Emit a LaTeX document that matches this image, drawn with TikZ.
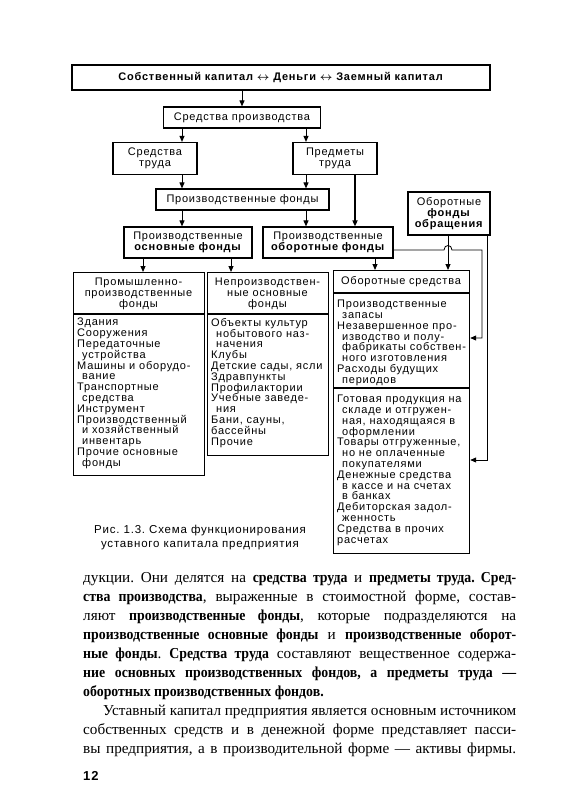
\documentclass[tikz,border=0pt]{standalone}
\usepackage{fontspec}
\setmainfont{Liberation Serif}[BoldFeatures={FakeStretch=0.91}]
\newfontfamily\diagfont{Liberation Sans}[LetterSpace=7]
\usepackage{tikz}
\usetikzlibrary{arrows.meta}
\newcommand{\indnt}{\hspace*{5pt}}
\newcommand{\lrarr}{{\boldmath$\leftrightarrow$}}
\frenchspacing

\begin{document}
\begin{tikzpicture}[x=1pt,y=-1pt,
  box/.style={draw,line width=1.2pt,inner sep=0pt,align=center,font={\diagfont\fontsize{11}{10.8}\selectfont}},
  listframe/.style={draw,line width=1.2pt,inner sep=0pt,anchor=north west},
  items/.style={anchor=north west,inner sep=0pt,align=left,font={\diagfont\fontsize{11}{10.8}\selectfont}},
  arr/.style={-{Triangle[length=6pt,width=5pt]},line width=1pt},
  bodyline/.style={anchor=base west,inner sep=0pt,font={\fontsize{15.2}{19}\selectfont}}]
  \fill[white] (0,0) rectangle (564,800);
  \useasboundingbox (0,0) rectangle (564,800);

  % upper boxes
  \node[box,minimum width=418pt,minimum height=25pt](top) at (281,77.5){\textbf{Собственный капитал \lrarr{} Деньги \lrarr{} Заемный капитал}};
  \node[box,minimum width=157pt,minimum height=21pt](sp) at (242,117.5){Средства производства};
  \node[box,minimum width=84pt,minimum height=32pt](st) at (155,158.5){Средства\\труда};
  \node[box,minimum width=84pt,minimum height=32pt](pt) at (335,158.5){Предметы\\труда};
  \node[box,minimum width=173pt,minimum height=21pt](pf) at (242.5,199.5){Производственные фонды};
  \node[box,minimum width=128pt,minimum height=31pt](posf) at (188,242.5){Производственные\\\textbf{основные фонды}};
  \node[box,minimum width=130pt,minimum height=31pt](pobf) at (328,242.5){Производственные\\\textbf{оборотные фонды}};
  \node[box,minimum width=82pt,minimum height=43pt](ofo) at (449,213.5){Оборотные\\\textbf{фонды}\\\textbf{обращения}};

  % lower boxes
  \node[listframe,minimum width=131pt,minimum height=203pt](ppf) at (73,272){};
  \node[listframe,minimum width=121pt,minimum height=183pt](npof) at (207,272){};
  \node[listframe,minimum width=136pt,minimum height=283pt](os) at (333,270){};
  \draw[line width=1.2pt] (73,314) -- (204,314);
  \draw[line width=1.2pt] (207,314) -- (328,314);
  \draw[line width=1.2pt] (333,293) -- (469,293);
  \draw[line width=1.2pt] (333,388) -- (469,388);

  \node[box,draw=none](ppft) at (138.5,294){Промышленно-\\производственные\\фонды};
  \node[box,draw=none](npoft) at (267.5,294){Непроизводствен-\\ные основные\\фонды};
  \node[box,draw=none](ost) at (401,282){Оборотные средства};

  \node[items](ppfi) at (77,318){Здания\\Сооружения\\Передаточные\\\indnt устройства\\Машины и оборудо-\\\indnt вание\\Транспортные\\\indnt средства\\Инструмент\\Производственный\\\indnt и хозяйственный\\\indnt инвентарь\\Прочие основные\\\indnt фонды};
  \node[items](npofi) at (211,318){Объекты культур\\\indnt нобытового наз-\\\indnt начения\\Клубы\\Детские сады, ясли\\Здравпункты\\Профилактории\\Учебные заведе-\\\indnt ния\\Бани, сауны,\\бассейны\\Прочие};
  \node[items](osi) at (337,300){Производственные\\\indnt запасы\\Незавершенное про-\\\indnt изводство и полу-\\\indnt фабрикаты собствен-\\\indnt ного изготовления\\Расходы будущих\\\indnt периодов};
  \node[items](osj) at (337,395){Готовая продукция на\\\indnt складе и отгружен-\\\indnt ная, находящаяся в\\\indnt оформлении\\Товары отгруженные,\\\indnt но не оплаченные\\\indnt покупателями\\Денежные средства\\\indnt в кассе и на счетах\\\indnt в банках\\Дебиторская задол-\\\indnt женность\\Средства в прочих\\расчетах};

  % connectors
  \coordinate (xa) at (182,0);
  \coordinate (xb) at (306,0);
  \coordinate (xc) at (355,0);
  \coordinate (xd) at (143,0);
  \coordinate (xe) at (231,0);
  \coordinate (xf) at (375,0);
  \coordinate (xg) at (448,0);
  \coordinate (ya) at (0,250);
  \coordinate (r1) at (482,338);
  \coordinate (r2) at (487,460);
  \draw[arr] (top.south -| sp.north) -- (sp.north);
  \draw[arr] (sp.south -| xa) -- (st.north -| xa);
  \draw[arr] (sp.south -| xb) -- (pt.north -| xb);
  \draw[arr] (st.south -| xa) -- (pf.north -| xa);
  \draw[arr] (pt.south -| xb) -- (pf.north -| xb);
  \draw[arr,line width=2pt] (pt.south -| xc) -- (pobf.north -| xc);
  \draw[arr] (pf.south -| xa) -- (posf.north -| xa);
  \draw[arr] (pf.south -| xb) -- (pobf.north -| xb);
  \draw[arr] (posf.south -| xd) -- (ppf.north -| xd);
  \draw[arr] (posf.south -| xe) -- (npof.north -| xe);
  \draw[arr] (pobf.south -| xf) -- (os.north -| xf);
  \draw[arr] (ofo.south -| xg) -- (os.north -| xg);
  \draw[arr,line width=0.8pt] (pobf.east |- ya) -- (444,250) .. controls (444,244) and (452,244) .. (452,250) -- (ya -| r1) -- (r1) -- (os.east |- r1);
  \draw[arr,line width=0.8pt] (ofo.south -| r2) -- (r2) -- (os.east |- r2);

  % caption
  \node[align=center,font={\diagfont\fontsize{11.5}{14.5}\selectfont}](cap) at (200,537.5){Рис. 1.3. Схема функционирования\\уставного капитала предприятия};

  % text of the page
  \node[bodyline](l1) at (83,582){\makebox[433pt][s]{дукции. Они делятся на \textbf{средства труда} и \textbf{предметы труда. Сред-}}};
  \node[bodyline](l2) at (83,601){\makebox[433pt][s]{\textbf{ства производства}, выраженные в стоимостной форме, состав-}};
  \node[bodyline](l3) at (83,620){\makebox[433pt][s]{ляют \textbf{производственные фонды}, которые подразделяются на}};
  \node[bodyline](l4) at (83,639){\makebox[433pt][s]{\textbf{производственные основные фонды} и \textbf{производственные оборот-}}};
  \node[bodyline](l5) at (83,658){\makebox[433pt][s]{\textbf{ные фонды}. \textbf{Средства труда} составляют вещественное содержа-}};
  \node[bodyline](l6) at (83,677){\makebox[433pt][s]{\textbf{ние основных производственных фондов, а предметы труда —}}};
  \node[bodyline](l7) at (83,696){\textbf{оборотных производственных фондов.}};
  \node[bodyline](l8) at (83,715){\makebox[433pt][s]{\hspace*{20pt}Уставный капитал предприятия является основным источником}};
  \node[bodyline](l9) at (83,734){\makebox[433pt][s]{собственных средств и в денежной форме представляет пасси-}};
  \node[bodyline](l10) at (83,753){\makebox[433pt][s]{вы предприятия, а в производительной форме — активы фирмы.}};
  \node[anchor=base west,inner sep=0pt,font={\diagfont\fontsize{13}{15}\selectfont\bfseries}](num) at (83,780){12};
\end{tikzpicture}
\end{document}
